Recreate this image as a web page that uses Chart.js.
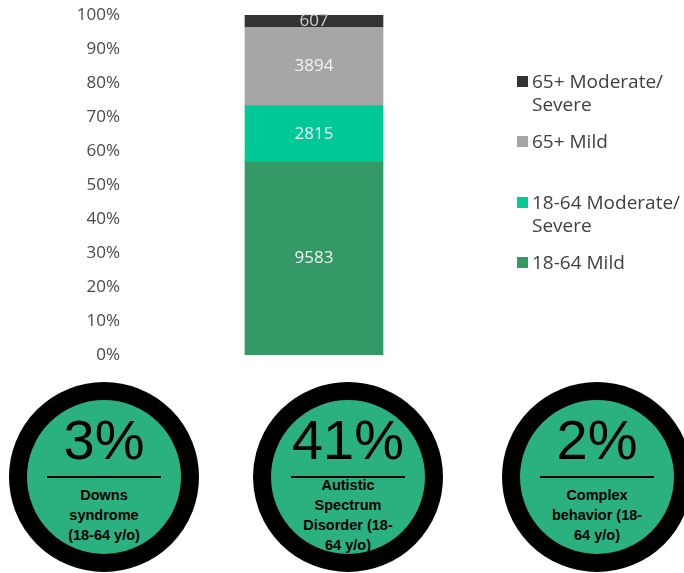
<!DOCTYPE html>
<html>
<head>
<meta charset="utf-8">
<script src="https://cdn.jsdelivr.net/npm/chart.js@4.4.1/dist/chart.umd.min.js"></script>
<style>
  body { margin: 0; background: #fff; }
  #wrap { position: relative; width: 684px; height: 573px; overflow: hidden; font-family: "Open Sans", sans-serif; }
  #chart { position: absolute; left: 0; top: 0; }
  #legend { position: absolute; left: 517px; top: 0; color: #404040; font-size: 19px; }
  .item { position: absolute; left: 0; white-space: nowrap; line-height: 23px; }
  .item .box { position: absolute; left: 0; top: 6px; width: 11px; height: 11px; }
  .item .txt { position: absolute; left: 15px; top: 0; }
  .circle { position: absolute; top: 382px; width: 190px; height: 190px; font-family: "Liberation Sans", Arial, sans-serif; color: #000; }
  .ring { position: absolute; inset: 0; border-radius: 50%; background: #2bb07f; border: 18px solid #000; box-sizing: border-box; }
  .big { position: absolute; left: 0; right: 0; top: 30px; text-align: center; font-size: 56px; line-height: 56px; }
  .rule { position: absolute; left: 38px; width: 114px; top: 94px; height: 2px; background: #000; }
  .sub { position: absolute; left: 0; right: 0; top: 95px; height: 76px; display: flex; flex-direction: column; justify-content: center; align-items: center; font-weight: bold; font-size: 14.5px; line-height: 20px; }
</style>
</head>
<body>
<div id="wrap">
  <canvas id="chart" width="684" height="372"></canvas>
  <div id="legend"></div>
</div>
<script>
// Stacked bar segments, bottom to top
const categories = ['Learning disability'];
const seriesLabels = [['18-64 Mild'], ['18-64 Moderate/', 'Severe'], ['65+ Mild'], ['65+ Moderate/', 'Severe']];
const seriesValues = [9583, 2815, 3894, 607];
const seriesColors = ['#339966', '#00c896', '#a6a6a6', '#333333'];
const yTicks = [0, 10, 20, 30, 40, 50, 60, 70, 80, 90, 100];

// Circles below the chart
const circlePercents = ['3%', '41%', '2%'];
const circleLabels = [
  ['Downs', 'syndrome', '(18-64 y/o)'],
  ['Autistic', 'Spectrum', 'Disorder (18-', '64 y/o)'],
  ['Complex', 'behavior (18-', '64 y/o)']
];

const total = seriesValues.reduce((a, b) => a + b, 0);

// Draw the raw numbers in the middle of each segment
const barLabels = {
  id: 'barLabels',
  afterDatasetsDraw(chart) {
    const ctx = chart.ctx;
    chart.data.datasets.forEach((ds, i) => {
      chart.getDatasetMeta(i).data.forEach((bar, j) => {
        const p = bar.getProps(['x', 'y', 'base'], true);
        ctx.save();
        ctx.font = '17px "Open Sans"';
        ctx.fillStyle = i === 3 ? '#d0d0d0' : '#f4f4f4';
        ctx.textAlign = 'center';
        ctx.textBaseline = 'middle';
        ctx.fillText(ds.raw[j], p.x, (p.y + p.base) / 2);
        ctx.restore();
      });
    });
  }
};

new Chart(document.getElementById('chart'), {
  type: 'bar',
  data: {
    labels: categories,
    datasets: seriesValues.map((v, i) => ({
      label: seriesLabels[i].join(' '),
      data: [v / total * 100],
      raw: [v],
      backgroundColor: seriesColors[i],
      borderWidth: 0,
      barThickness: 138
    }))
  },
  options: {
    responsive: false,
    animation: false,
    layout: { padding: { top: 15, bottom: 17, left: 0, right: 184 } },
    plugins: { legend: { display: false }, tooltip: { enabled: false } },
    scales: {
      x: { stacked: true, display: false },
      y: {
        stacked: true,
        min: 0,
        max: 100,
        afterBuildTicks: (axis) => { axis.ticks = yTicks.map(v => ({ value: v })); },
        afterFit: (axis) => {
          axis.width = 128;
          axis.paddingTop = 0;
          axis.paddingBottom = 0;
        },
        grid: { display: false, drawTicks: false },
        border: { display: false },
        ticks: {
          padding: 8,
          color: '#4a4a4a',
          font: { family: 'Open Sans', size: 17 },
          callback: (v) => v + '%'
        }
      }
    }
  },
  plugins: [barLabels]
});

// Legend, top series first
const legend = document.getElementById('legend');
const legendTops = [70, 130, 191, 251];
seriesLabels.slice().reverse().forEach((lines, k) => {
  const i = seriesLabels.length - 1 - k;
  const item = document.createElement('div');
  item.className = 'item';
  item.style.top = legendTops[k] + 'px';
  const box = document.createElement('div');
  box.className = 'box';
  box.style.background = seriesColors[i];
  const txt = document.createElement('div');
  txt.className = 'txt';
  txt.innerHTML = lines.join('<br>');
  item.appendChild(box);
  item.appendChild(txt);
  legend.appendChild(item);
});

// Circles
const wrap = document.getElementById('wrap');
const circleLefts = [9, 253, 502];
circlePercents.forEach((pct, i) => {
  const c = document.createElement('div');
  c.className = 'circle';
  c.style.left = circleLefts[i] + 'px';
  c.innerHTML = '<div class="ring"></div>' +
    '<div class="big">' + pct + '</div>' +
    '<div class="rule"></div>' +
    '<div class="sub">' + circleLabels[i].map(l => '<div>' + l + '</div>').join('') + '</div>';
  wrap.appendChild(c);
});
</script>
</body>
</html>
